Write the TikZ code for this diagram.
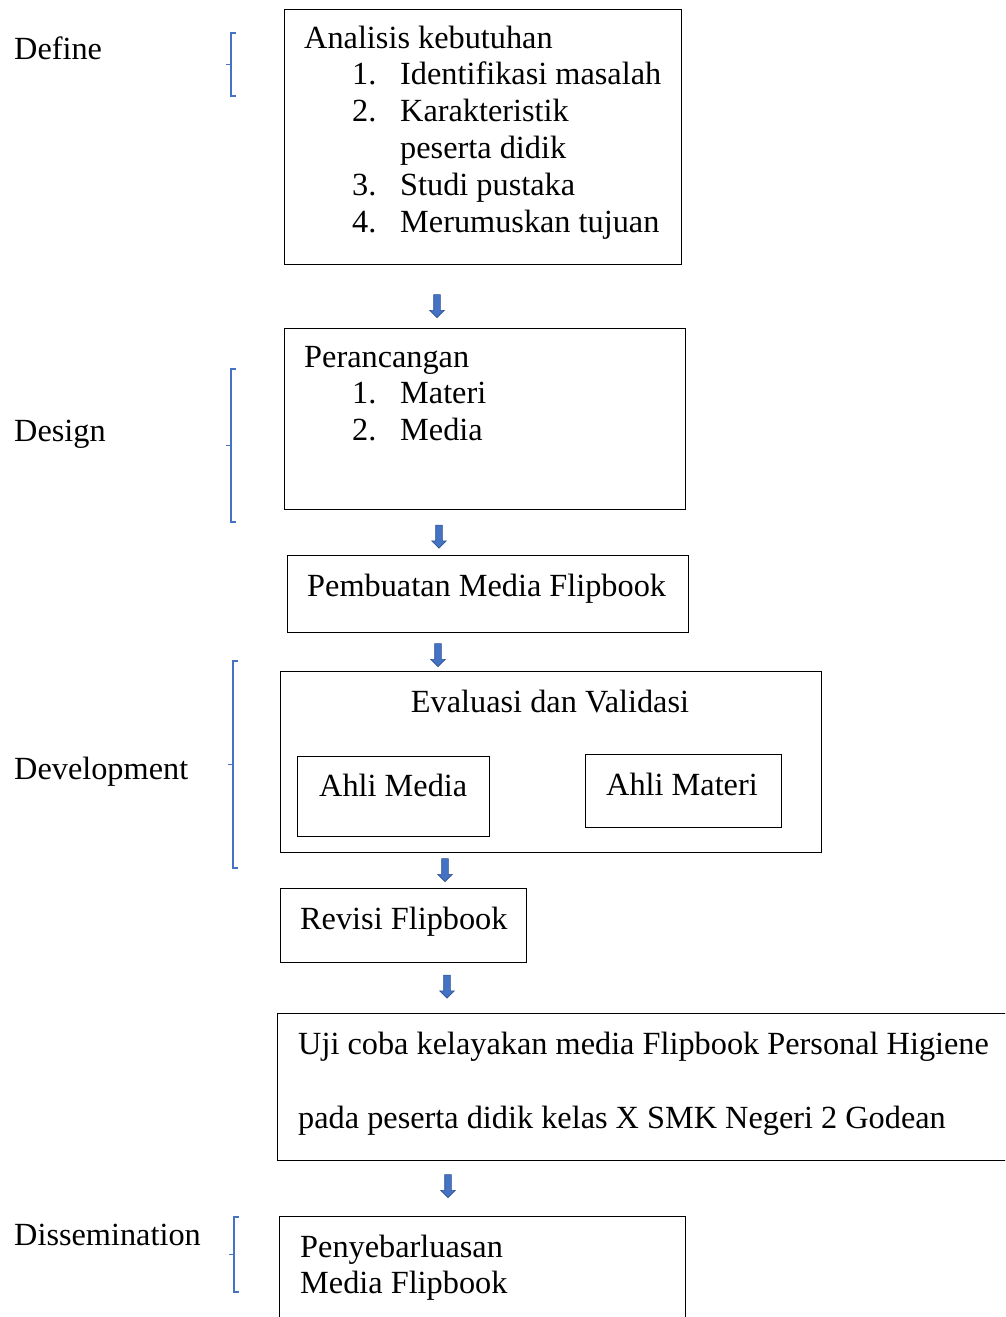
\documentclass[tikz,border=0pt]{standalone}
\usepackage{fontspec}
\setmainfont{Liberation Serif}
\usepackage{tikz}
\usetikzlibrary{shapes.arrows}
\definecolor{wordblue}{HTML}{4472C4}
\definecolor{wordblueline}{HTML}{2F528F}
\tikzstyle{box} = [draw, line width=1.2pt, anchor=north west, inner sep=0pt]
\tikzstyle{txt} = [anchor=base west, inner sep=0pt,
	font=\fontsize{32.3}{36.8}\selectfont]
\tikzstyle{down} = [single arrow, draw=wordblueline, fill=wordblue,
	line width=0.6pt, minimum height=23pt, inner sep=3pt,
	single arrow head extend=4pt, rotate=-90]
\tikzstyle{bracket} = [draw=wordblue, line width=1.5pt]
\newcommand{\phasebracket}[3]{\draw[bracket] ({#1+5},#2) -- (#1,#2) -- (#1,#3) -- ({#1+5},#3)
	(#1,{(#2+#3)/2}) -- ++(-5,0)}
\newcommand{\num}[1]{\hspace*{48pt}\makebox[48pt][l]{#1}}

\begin{document}
\begin{tikzpicture}[x=1pt, y=-1pt]
	\useasboundingbox (0,0) rectangle (1005,1317);
	\clip (0,0) rectangle (1005,1317);
	
	% phases
	\node[txt] (define) at (14,59) {Define};
	\node[txt] (design) at (14,441) {Design};
	\node[txt] (development) at (14,779) {Development};
	\node[txt] (dissemination) at (14,1245) {Dissemination};
	\phasebracket{231}{33}{96};
	\phasebracket{231}{369}{522};
	\phasebracket{233}{661}{868};
	\phasebracket{234}{1217}{1292};
	
	% define
	\node[box, minimum width=397pt, minimum height=255pt] (analisis) at (284,9) {};
	\node[txt] (analisis-text) at (304,48) {\begin{tabular}[t]{@{}l@{}}
		Analisis kebutuhan\\
		\num{1.}Identifikasi masalah\\
		\num{2.}Karakteristik\\
		\num{}peserta didik\\
		\num{3.}Studi pustaka\\
		\num{4.}Merumuskan tujuan
	\end{tabular}};
	\node[down] (arrow1) at (437,304.5) {};
	
	% design
	\node[box, minimum width=401pt, minimum height=181pt] (perancangan) at (284,328) {};
	\node[txt] (perancangan-text) at (304,367) {\begin{tabular}[t]{@{}l@{}}
		Perancangan\\
		\num{1.}Materi\\
		\num{2.}Media
	\end{tabular}};
	\node[down] (arrow2) at (439,535) {};
	
	\node[box, minimum width=401pt, minimum height=77pt] (pembuatan) at (287,555) {};
	\node[txt] (pembuatan-text) at (307,596) {Pembuatan Media Flipbook};
	\node[down] (arrow3) at (438,653.5) {};
	
	% development
	\node[box, minimum width=541pt, minimum height=181pt] (evaluasi) at (280,671) {};
	\node[txt, anchor=base] (evaluasi-text) at (550,712) {Evaluasi dan Validasi};
	\node[box, minimum width=192pt, minimum height=80pt] (ahlimedia) at (297,756) {};
	\node[txt] (ahlimedia-text) at (319,796) {Ahli Media};
	\node[box, minimum width=196pt, minimum height=73pt] (ahlimateri) at (585,754) {};
	\node[txt] (ahlimateri-text) at (606,795) {Ahli Materi};
	\node[down] (arrow4) at (445,868.5) {};
	
	\node[box, minimum width=246pt, minimum height=74pt] (revisi) at (280,888) {};
	\node[txt] (revisi-text) at (300,929) {Revisi Flipbook};
	\node[down] (arrow5) at (447,985) {};
	
	\node[box, minimum width=740pt, minimum height=147pt] (ujicoba) at (277,1013) {};
	\node[txt] (ujicoba-text1) at (298,1054) {Uji coba kelayakan media Flipbook Personal Higiene};
	\node[txt] (ujicoba-text2) at (298,1128) {pada peserta didik kelas X SMK Negeri 2 Godean};
	\node[down] (arrow6) at (448,1184.5) {};
	
	% dissemination
	\node[box, minimum width=406pt, minimum height=120pt] (penyebarluasan) at (279,1216) {};
	\node[txt] (penyebarluasan-text) at (300,1257) {\begin{tabular}[t]{@{}l@{}}
		Penyebarluasan\\
		Media Flipbook
	\end{tabular}};
\end{tikzpicture}
\end{document}
